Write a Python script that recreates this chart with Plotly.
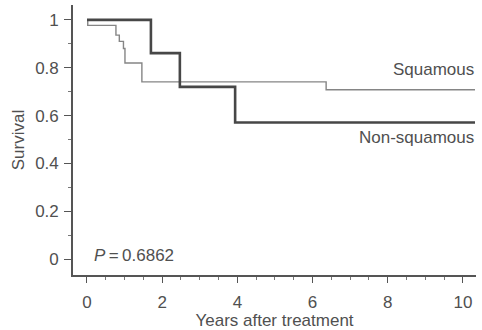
import plotly.graph_objects as go

# Data
squamous_t = [0, 0.02, 0.77, 0.86, 0.97, 1.01, 1.46, 6.36, 10.32]
squamous_s = [1.0, 0.977, 0.936, 0.91, 0.88, 0.82, 0.741, 0.708, 0.708]
nonsq_t = [0, 1.70, 2.47, 3.94, 10.32]
nonsq_s = [1.0, 0.861, 0.72, 0.571, 0.571]
x_ticks = [0, 2, 4, 6, 8, 10]
y_ticks = [0, 0.2, 0.4, 0.6, 0.8, 1]
y_labels = ["0", "0.2", "0.4", "0.6", "0.8", "1"]

TXT = "#505050"
FONT = "Liberation Sans, Arial, sans-serif"

fig = go.Figure()
fig.add_trace(go.Scatter(x=squamous_t, y=squamous_s, mode="lines",
                         line=dict(shape="hv", color="#858585", width=1.4),
                         showlegend=False, hoverinfo="skip"))
fig.add_trace(go.Scatter(x=nonsq_t, y=nonsq_s, mode="lines",
                         line=dict(shape="hv", color="#474747", width=2.6),
                         showlegend=False, hoverinfo="skip"))

fig.add_annotation(x=1, xref="paper", y=0.793, yref="y", text="Squamous",
                   showarrow=False, xanchor="right", yanchor="middle",
                   font=dict(family=FONT, size=17, color=TXT))
fig.add_annotation(x=1, xref="paper", y=0.51, yref="y", text="Non-squamous",
                   showarrow=False, xanchor="right", yanchor="middle",
                   font=dict(family=FONT, size=17, color=TXT))
fig.add_annotation(x=0.13, xref="x", y=0.017, yref="y",
                   text="<i>P</i>\u2009=\u20090.6862",
                   showarrow=False, xanchor="left", yanchor="middle",
                   font=dict(family=FONT, size=17, color=TXT))

fig.update_layout(
    width=482, height=330,
    margin=dict(l=73, r=6, t=5, b=53),
    paper_bgcolor="white", plot_bgcolor="white",
    font=dict(family=FONT, size=17, color=TXT),
    xaxis=dict(range=[-0.372, 10.346], tickvals=x_ticks,
               ticks="outside", ticklen=6, tickwidth=1.3, tickcolor="#555",
               ticklabelstandoff=5,
               minor=dict(dtick=0.5, tick0=0, ticks="outside", ticklen=3,
                          tickcolor="#777", tickwidth=1),
               showline=True, linecolor="#555", linewidth=1.6,
               showgrid=False, zeroline=False,
               tickfont=dict(family=FONT, size=17, color=TXT),
               title=dict(text="Years after treatment", standoff=1,
                          font=dict(family=FONT, size=17, color=TXT))),
    yaxis=dict(range=[-0.066, 1.062], tickvals=y_ticks, ticktext=y_labels,
               ticks="outside", ticklen=7, tickwidth=1.3, tickcolor="#555",
               ticklabelstandoff=2,
               minor=dict(dtick=0.1, tick0=0, ticks="outside", ticklen=3,
                          tickcolor="#777", tickwidth=1),
               showline=True, linecolor="#555", linewidth=1.6,
               showgrid=False, zeroline=False,
               tickfont=dict(family=FONT, size=17, color=TXT),
               title=dict(text="Survival", standoff=6,
                          font=dict(family=FONT, size=17, color=TXT))),
)

fig.write_html("out.html")
